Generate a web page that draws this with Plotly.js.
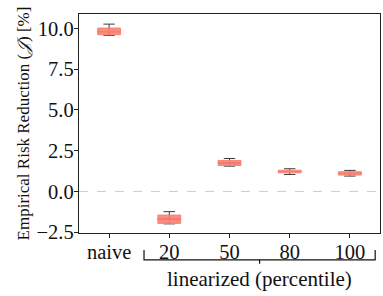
<!DOCTYPE html>
<html>
<head>
<meta charset="utf-8">
<script src="https://cdn.plot.ly/plotly-3.0.1.min.js"></script>
<style>html,body{margin:0;padding:0;background:#fff;}#chart{width:383px;height:296px;}</style>
</head>
<body>
<div id="chart"></div>
<script>
const categories = ['naive', '20', '50', '80', '100'];
const lowerWhisker = [9.57, -1.99, 1.55, 1.04, 0.94];
const q1Values     = [9.61, -1.96, 1.59, 1.14, 1.00];
const medianValues = [9.80, -1.70, 1.75, 1.22, 1.10];
const q3Values     = [10.02, -1.45, 1.90, 1.30, 1.21];
const upperWhisker = [10.26, -1.24, 2.02, 1.39, 1.29];
const yTicks = [-2.5, 0, 2.5, 5, 7.5, 10];
const groupLabel = 'linearized (percentile)';
const yTitle = 'Empirical Risk Reduction (<i>𝒥</i>) [%]';

const FONT = '"Liberation Serif", "Times New Roman", Times, serif';

const whiskers = {
  type: 'box',
  x: categories,
  lowerfence: lowerWhisker,
  q1: medianValues,
  median: medianValues,
  q3: medianValues,
  upperfence: upperWhisker,
  width: 0.38,
  whiskerwidth: 0.5,
  line: {color: '#3a3a3a', width: 1},
  fillcolor: 'rgba(0,0,0,0)',
  boxpoints: false,
  hoverinfo: 'skip',
  showlegend: false
};
const boxes = {
  type: 'box',
  x: categories,
  lowerfence: q1Values,
  q1: q1Values,
  median: medianValues,
  q3: q3Values,
  upperfence: q3Values,
  width: 0.38,
  whiskerwidth: 0,
  line: {color: 'rgba(250,128,114,0.9)', width: 1},
  fillcolor: 'rgba(250,128,114,0.9)',
  boxpoints: false,
  showlegend: false
};

const layout = {
  width: 383, height: 296,
  margin: {l: 79, r: 3, t: 14, b: 63},
  paper_bgcolor: '#fff', plot_bgcolor: '#fff',
  font: {family: FONT, size: 20, color: '#111'},
  boxmode: 'overlay',
  showlegend: false,
  xaxis: {
    type: 'category', categoryorder: 'array', categoryarray: categories,
    range: [-0.5, 4.5],
    showline: true, mirror: true, linecolor: '#222', linewidth: 1.2,
    ticks: 'outside', ticklen: 4, tickcolor: '#222',
    ticklabelstandoff: -4,
    showgrid: false, zeroline: false,
    tickfont: {family: FONT, size: 20.5, color: '#111'}
  },
  yaxis: {
    range: [-2.55, 10.88],
    tickvals: yTicks, tickformat: '.1f',
    showline: true, mirror: true, linecolor: '#222', linewidth: 1.2,
    ticks: 'outside', ticklen: 4, tickcolor: '#222',
    ticklabelstandoff: -4,
    showgrid: false, zeroline: false,
    tickfont: {family: FONT, size: 20.5, color: '#111'},
    title: {text: yTitle, font: {family: FONT, size: 17, color: '#111'}, standoff: 2}
  },
  shapes: [
    {type: 'line', xref: 'paper', yref: 'y', x0: 0, x1: 1, y0: 0, y1: 0,
     line: {color: '#cccccc', width: 1, dash: 'dash'}, layer: 'below'},
    {type: 'path', xref: 'x', yref: 'paper',
     path: 'M 0.58,-0.078 L 0.58,-0.123 L 4.42,-0.123 L 4.42,-0.078',
     line: {color: '#111', width: 1.2}},
    {type: 'line', xref: 'x', yref: 'paper', x0: 2.5, x1: 2.5, y0: -0.123, y1: -0.14,
     line: {color: '#111', width: 1.2}}
  ],
  annotations: [
    {text: groupLabel, xref: 'x', yref: 'paper', x: 2.5, y: -0.212,
     xanchor: 'center', yanchor: 'middle', showarrow: false,
     font: {family: FONT, size: 21, color: '#111'}}
  ]
};

Plotly.newPlot('chart', [whiskers, boxes], layout, {displayModeBar: false, staticPlot: true});
</script>
</body>
</html>
